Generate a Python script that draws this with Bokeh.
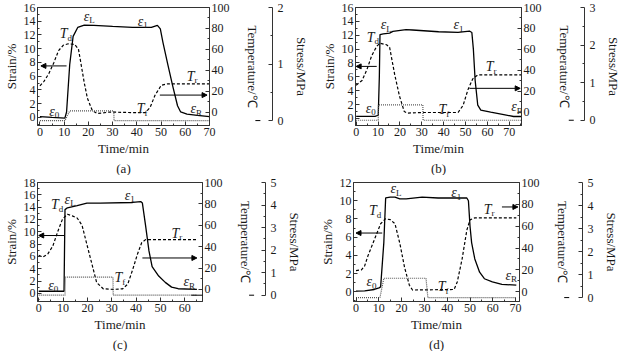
from bokeh.plotting import figure
from bokeh.models import Range1d, LinearAxis, FixedTicker, Arrow, NormalHead, Title
from bokeh.layouts import column, row
from bokeh.core.properties import value
from bokeh.embed import file_html
from bokeh.resources import INLINE

FONT = "Liberation Serif"

# ---------------- panel (a) ----------------
a_t_strain = [0, 5, 10.3, 11, 12.3, 13.7, 15.6, 18.3, 22.3, 30, 38.2, 46, 48.5, 49.7, 50.8, 52.8, 54.8, 56.8, 58.1, 60.7, 65, 70]
a_strain = [0.13, 0.0, -0.1, 0.8, 7.7, 11.8, 13.1, 13.45, 13.4, 13.25, 13.1, 13.1, 13.4, 12.9, 10.9, 7.7, 4.6, 1.7, 0.8, 0.5, 0.3, 0.13]
a_t_temp = [0, 1.7, 3.7, 5.7, 7.7, 9.7, 11.7, 14.3, 15.9, 17, 18.3, 19.6, 21.6, 23.6, 28.9, 38.2, 43.5, 45.5, 47.5, 50.1, 52.8, 70]
a_temp = [25, 29.4, 36.8, 47, 58.8, 64, 65.3, 64.7, 60.3, 45.6, 28, 13.2, 1.5, -1.5, 0, -0.6, -0.6, 4.4, 16, 25.6, 27, 27]
a_t_stress = [0, 10.3, 12.3, 30.5, 30.6, 70]
a_stress = [0, 0, 0.17, 0.17, 0, 0]
a_eps_x = [5.7, 20.0, 42.2, 64]
a_eps_y = [0.9, 14.7, 14.0, 1.25]
a_T_x = [11, 42.8, 63.4]
a_T_y = [75, 3, 34.4]

# ---------------- panel (b) ----------------
b_t_strain = [0, 8.6, 10.1, 10.6, 10.9, 12.4, 15.3, 16.8, 22.8, 25.8, 37.7, 46.6, 51.8, 52.9, 53.6, 54.4, 55.6, 57, 61.5, 67.5, 72, 75.5]
b_strain = [0.3, 0.3, 0.45, 6, 12.1, 12.2, 12.3, 12.55, 12.8, 12.75, 12.5, 12.4, 12.6, 12.4, 9.95, 5.5, 1.9, 1.2, 0.9, 0.54, 0.27, 0.27]
b_t_temp = [0, 2.7, 4.9, 7.1, 9.4, 10.9, 13.9, 15.3, 17.6, 19.8, 22, 23.5, 30.2, 46.6, 48.9, 51.1, 53.3, 55.6, 75.5]
b_temp = [26, 30.5, 40.8, 54, 63, 66, 64.5, 62, 36.4, 15.7, 0.9, -0.6, 0, 0, 6.8, 21.6, 32, 35.8, 35.8]
b_t_stress = [0, 10.1, 10.2, 30.5, 30.6, 75.5]
b_stress = [0, 0, 0.41, 0.41, 0, 0]
b_eps_x = [6.4, 13.3, 46.6, 73.0]
b_eps_y = [1.43, 13.5, 13.5, 1.66]
b_T_x = [7.9, 40.7, 62.3]
b_T_y = [71.9, 2.4, 43.8]

# ---------------- panel (c) ----------------
c_t_strain = [0, 10.4, 10.8, 11.8, 15.8, 19.8, 25.2, 38.6, 41.9, 42.6, 43.9, 45.3, 46.6, 49.3, 52, 54.6, 57.3, 65]
c_strain = [0.36, 0.36, 13.6, 13.9, 14.25, 14.66, 14.66, 14.76, 14.9, 14.66, 11.06, 6.9, 4.37, 2.83, 1.8, 1.03, 0.77, 0.67]
c_t_temp = [0, 1.7, 3.75, 5.8, 7.8, 9.8, 11.8, 13.8, 15.8, 17.8, 19.8, 21.8, 23.8, 26.5, 30.5, 34.5, 36.6, 38.6, 40.6, 42.3, 43.9, 65]
c_temp = [31.8, 30.3, 33.2, 40.6, 54, 65.9, 70.3, 68.8, 66.8, 60, 42, 24.3, 6.5, 0.6, 0, 0.6, 5, 18.4, 33.2, 43.6, 46.6, 46.6]
c_t_stress = [0, 10.8, 11, 30.5, 30.6, 65]
c_stress = [0, 0, 0.8, 0.8, 0, 0]
c_eps_x = [5.8, 12.5, 37.2, 61.3]
c_eps_y = [1.3, 15.3, 15.9, 1.9]
c_T_x = [7.8, 33.9, 57.3]
c_T_y = [79.2, 11, 52.5]

# ---------------- panel (d) ----------------
d_t_strain = [0, 3.8, 8, 10.1, 10.8, 12.2, 13, 15, 17.1, 19.2, 22, 29, 36, 48.6, 49.3, 50, 50.7, 52.1, 54.2, 56.3, 59.8, 64, 70.3]
d_strain = [0.07, 0.1, 0.25, 0.43, 0.54, 5.4, 10.3, 10.4, 10.4, 10.2, 10.2, 10.4, 10.3, 10.3, 10.0, 7.2, 5.4, 3.6, 2.15, 1.43, 1.08, 0.82, 0.72]
d_t_temp = [0, 2.4, 3.8, 5.2, 8, 10.8, 12.9, 15, 17.1, 19.2, 21.3, 23.4, 24.8, 43, 44.4, 46.5, 48.6, 50, 52.1, 70.3]
d_temp = [19.3, 20, 23.7, 32.6, 47.4, 62.2, 66.7, 66, 62.2, 44.4, 22.2, 5.9, 1.5, 2, 8.9, 29.6, 56.3, 65.8, 67.6, 67.6]
d_t_stress = [0, 10.5, 12.2, 30.7, 31.5, 70.3]
d_stress = [0, 0, 0.84, 0.84, 0, 0]
d_eps_x = [6.6, 17.1, 43.7, 67.5]
d_eps_y = [1.08, 11.3, 10.9, 1.8]
d_T_x = [8.7, 38.8, 59]
d_T_y = [74, 4.4, 75.6]

eps_sub = ["0", "L", "1", "R"]
T_sub = ["d", "f", "r"]

x_ticks = [0, 10, 20, 30, 40, 50, 60, 70]
temp_ticks = [0, 20, 40, 60, 80, 100]

AX = "#333333"
TXT = "#1a1a1a"


def style_axis(ax):
    ax.major_tick_in = 4
    ax.major_tick_out = 0
    ax.minor_tick_in = 2
    ax.minor_tick_out = 0
    ax.axis_line_color = AX
    ax.major_tick_line_color = AX
    ax.minor_tick_line_color = AX
    ax.major_label_text_font = FONT
    ax.major_label_text_font_size = "12px"
    ax.major_label_text_font_style = "normal"
    ax.major_label_text_color = TXT
    ax.axis_label_text_font = FONT
    ax.axis_label_text_font_size = "13px"
    ax.axis_label_text_font_style = "normal"
    ax.axis_label_text_color = TXT
    ax.major_label_standoff = 2
    ax.axis_label_standoff = 2


def make_panel(tag, ts, s, tT, T, tp, pv, xr, sr, tr, pr, s_ticks, p_max,
               eps_x, eps_y, T_x, T_y, arrows, out_arrow, fw, fh, mbl, mbr):
    p = figure(frame_width=fw, frame_height=fh, x_range=Range1d(*xr), y_range=Range1d(*sr),
               output_backend="svg", toolbar_location=None,
               min_border_left=mbl, min_border_right=mbr, min_border_top=7, min_border_bottom=47)
    p.extra_y_ranges = {"temp": Range1d(*tr), "stress": Range1d(*pr)}
    p.grid.visible = False
    p.outline_line_color = AX
    p.background_fill_color = "white"
    p.border_fill_color = "white"

    xa = p.xaxis[0]
    style_axis(xa)
    xa.ticker = FixedTicker(ticks=x_ticks, minor_ticks=[v + 5 for v in x_ticks])
    xa.axis_label = "Time/min"
    ya = p.yaxis[0]
    style_axis(ya)
    ya.ticker = FixedTicker(ticks=s_ticks, minor_ticks=[v + 1 for v in s_ticks] + [-1])
    ya.axis_label = "Strain/%"

    ta = LinearAxis(y_range_name="temp", axis_label="Temperature/℃")
    style_axis(ta)
    ta.ticker = FixedTicker(ticks=temp_ticks, minor_ticks=[v + 10 for v in temp_ticks[:-1]])
    ta.axis_label_standoff = 12
    p.add_layout(ta, "right")

    sp = LinearAxis(y_range_name="temp", axis_label=" ")
    sp.ticker = FixedTicker(ticks=[])
    sp.axis_line_color = None
    sp.major_tick_line_color = None
    sp.minor_tick_line_color = None
    sp.axis_label_text_font_size = "7px"
    sp.axis_label_standoff = 0
    sp.major_label_standoff = 0
    p.add_layout(sp, "right")

    pa = LinearAxis(y_range_name="stress", axis_label="Stress/MPa", bounds=(0, p_max))
    style_axis(pa)
    pa.ticker = FixedTicker(ticks=list(range(p_max + 1)), minor_ticks=[k + 0.5 for k in range(p_max)])
    pa.major_label_standoff = 5
    pa.axis_label_standoff = 7
    p.add_layout(pa, "right")

    p.add_layout(Title(text=tag, align="center", text_font=FONT, text_font_size="13px",
                       text_font_style="normal", text_color=TXT, standoff=0), "below")

    p.line(ts, s, color="black", line_width=1.3)
    p.line(tT, T, y_range_name="temp", color="black", line_width=1.2, line_dash="3 2")
    p.line(tp, pv, y_range_name="stress", color="#555555", line_width=1.2, line_dash="1 1")

    p.text(eps_x, eps_y, text=["ε"] * len(eps_x), text_font=value(FONT), text_font_style="italic",
           text_font_size="14px", text_align="right", text_baseline="middle", x_offset=1, text_color=TXT)
    p.text(eps_x, eps_y, text=eps_sub, text_font=value(FONT), text_font_size="9px",
           text_align="left", text_baseline="middle", x_offset=1, y_offset=4, text_color=TXT)
    p.text(T_x, T_y, text=["T"] * len(T_x), text_font=value(FONT), text_font_style="italic",
           text_font_size="14px", text_align="right", text_baseline="middle", x_offset=1,
           y_range_name="temp", text_color=TXT)
    p.text(T_x, T_y, text=T_sub, text_font=value(FONT), text_font_size="9px",
           text_align="left", text_baseline="middle", x_offset=1, y_offset=4, y_range_name="temp",
           text_color=TXT)

    (lx0, lx1, ly), (rx0, rx1, ry) = arrows
    p.add_layout(Arrow(x_start=lx0, y_start=ly, x_end=lx1, y_end=ly, line_width=1,
                       end=NormalHead(size=5, fill_color="black", line_color="black")))
    p.add_layout(Arrow(x_start=rx0, y_start=ry, x_end=rx1, y_end=ry, line_width=1, y_range_name="temp",
                       end=NormalHead(size=5, fill_color="black", line_color="black")))
    ox0, ox1 = out_arrow
    p.add_layout(Arrow(x_start=ox0, y_start=0, x_end=ox1, y_end=0, line_width=1, y_range_name="stress",
                       end=NormalHead(size=5, fill_color="black", line_color="black")))
    return p


pa_ = make_panel("(a)", a_t_strain, a_strain, a_t_temp, a_temp, a_t_stress, a_stress,
                 (-1, 70), (-1.17, 16), (-12.9, 100), (-0.087, 2), list(range(0, 17, 2)), 2,
                 a_eps_x, a_eps_y, a_T_x, a_T_y,
                 ((11, 0.4, 7.5), (49.5, 69, 16.2)), (70, 91), 172, 118, 31, 100)
pb_ = make_panel("(b)", b_t_strain, b_strain, b_t_temp, b_temp, b_t_stress, b_stress,
                 (-0.3, 75.6), (-1.03, 16), (-12.4, 100), (-0.14, 3), list(range(0, 17, 2)), 3,
                 b_eps_x, b_eps_y, b_T_x, b_T_y,
                 ((9.4, 0, 7.5), (51.8, 75, 23)), (75.6, 99.5), 166, 118, 44, 94)
pc_ = make_panel("(c)", c_t_strain, c_strain, c_t_temp, c_temp, c_t_stress, c_stress,
                 (-0.5, 67.3), (-1.3, 18), (-11.3, 100), (-0.28, 5), list(range(0, 19, 2)), 5,
                 c_eps_x, c_eps_y, c_T_x, c_T_y,
                 ((10.4, 0, 9.4), (42.6, 65, 29.4)), (62.7, 88.5), 165, 119, 31, 107)
pd_ = make_panel("(d)", d_t_strain, d_strain, d_t_temp, d_temp, d_t_stress, d_stress,
                 (-1.1, 71.7), (-1.07, 12), (-9, 100), (-0.17, 5), list(range(0, 13, 2)), 5,
                 d_eps_x, d_eps_y, d_T_x, d_T_y,
                 ((11.5, 0, 6.45), (64, 71, 77.6)), (71.7, 93.5), 166, 119, 44, 94)

layout = column(row(pa_, pb_), row(pc_, pd_))
open("out.html", "w").write(file_html(layout, INLINE))
